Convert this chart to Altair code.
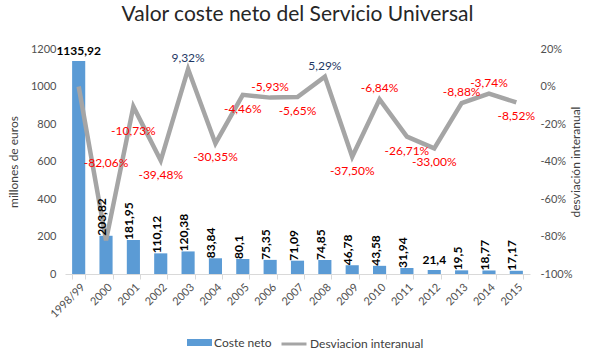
import altair as alt
import pandas as pd

years = ["1998/99", "2000", "2001", "2002", "2003", "2004", "2005", "2006", "2007",
         "2008", "2009", "2010", "2011", "2012", "2013", "2014", "2015"]
coste = [1135.92, 203.82, 181.95, 110.12, 120.38, 83.84, 80.1, 75.35, 71.09,
         74.85, 46.78, 43.58, 31.94, 21.4, 19.5, 18.77, 17.17]
desv = [0.0, -82.06, -10.73, -39.48, 9.32, -30.35, -4.46, -5.93, -5.65,
        5.29, -37.50, -6.84, -26.71, -33.00, -8.88, -3.74, -8.52]
# orientation of bar value labels (v = vertical, h = horizontal)
bar_orient = ["h", "v", "v", "v", "v", "v", "v", "v", "v",
              "v", "v", "v", "v", "h", "v", "v", "v"]
# placement of the percentage labels relative to the line
desv_place = ["none", "far", "below2", "below", "above", "below", "below", "above", "below",
              "above", "below", "above", "below", "below", "above", "above", "below"]

df = pd.DataFrame({
    "year": years,
    "coste": coste,
    "desv": desv,
    "orient": bar_orient,
    "place": desv_place,
})
df["coste_lbl"] = [str(v).replace(".", ",") for v in coste]
df["desv_lbl"] = [f"{v:.2f}".replace(".", ",") + "%" for v in desv]
df["serie"] = "Coste neto"
df["serie2"] = "Desviacion interanual"

FONT = "Lato"
GRAY_TXT = "#505050"

x_enc = alt.X("year:N", sort=years, title=None,
              scale=alt.Scale(paddingInner=0.52, paddingOuter=0.26),
              axis=alt.Axis(labelAngle=-45, labelFontSize=11, labelFont=FONT,
                            labelColor=GRAY_TXT, domainColor="#D9D9D9",
                            tickColor="#D9D9D9", tickBand="extent", tickSize=5,
                            labelPadding=2))
x_plain = alt.X("year:N", sort=years)

y_left_scale = alt.Scale(domain=[0, 1200], nice=False)
y_left_axis = alt.Axis(values=[0, 200, 400, 600, 800, 1000, 1200], grid=False, format="d",
                       ticks=False, domain=False, labelFontSize=11, labelFont=FONT,
                       labelColor=GRAY_TXT, labelPadding=9,
                       title="millones de euros", titleFont=FONT, titleFontSize=12,
                       titleFontWeight="normal", titleColor="#404040", titlePadding=10)

y_right_scale = alt.Scale(domain=[-100, 20], nice=False)
y_right_axis = alt.Axis(orient="right", values=[-100, -80, -60, -40, -20, 0, 20],
                        labelExpr="datum.value + '%'", grid=False, ticks=False,
                        domain=False, labelFontSize=11, labelFont=FONT,
                        labelColor=GRAY_TXT, labelPadding=10,
                        title="desviación interanual", titleFont=FONT, titleFontSize=12,
                        titleFontWeight="normal", titleColor="#404040", titlePadding=10,
                        titleAngle=270)

base = alt.Chart(df)

bars = base.mark_bar(color="#5B9BD5").encode(
    x=x_enc,
    y=alt.Y("coste:Q", scale=y_left_scale, axis=y_left_axis),
    fill=alt.Fill("serie:N", scale=alt.Scale(domain=["Coste neto"], range=["#5B9BD5"]),
                  legend=alt.Legend(orient="none", legendX=122, legendY=281, title=None,
                                    symbolType="M-1,-0.28H1V0.28H-1Z", symbolSize=625,
                                    labelFont=FONT, labelFontSize=12, labelColor="#404040",
                                    symbolStrokeWidth=0, labelOffset=2)),
)

bar_txt_v = base.transform_filter("datum.orient == 'v'").mark_text(
    angle=270, align="left", dy=-4, font=FONT, fontSize=12,
    fontWeight="bold", color="#000000"
).encode(x=x_plain, y=alt.Y("coste:Q", scale=y_left_scale, axis=None),
         text="coste_lbl:N")

bar_txt_h = base.transform_filter("datum.orient == 'h'").mark_text(
    align="center", baseline="bottom", dy=-3, font=FONT, fontSize=12,
    fontWeight="bold", color="#000000"
).encode(x=x_plain, y=alt.Y("coste:Q", scale=y_left_scale, axis=None),
         text="coste_lbl:N")

line = base.mark_line(strokeWidth=4.5, color="#A5A5A5").encode(
    x=x_plain,
    y=alt.Y("desv:Q", scale=y_right_scale, axis=y_right_axis),
    stroke=alt.Stroke("serie2:N", scale=alt.Scale(domain=["Desviacion interanual"], range=["#A5A5A5"]),
                      legend=alt.Legend(orient="none", legendX=215, legendY=281, title=None,
                                        symbolType="stroke", symbolSize=625,
                                        symbolStrokeWidth=3, labelFont=FONT,
                                        labelFontSize=12, labelColor="#404040", labelOffset=2)),
)

color_cond = alt.condition("datum.desv > 0", alt.value("#1F3864"), alt.value("#FF0000"))


def desv_text(place, dy):
    return base.transform_filter(f"datum.place == '{place}'").mark_text(
        align="center", baseline="middle", dy=dy, font=FONT, fontSize=12
    ).encode(x=x_plain,
             y=alt.Y("desv:Q", scale=y_right_scale, axis=None),
             text="desv_lbl:N", color=color_cond)


chart = alt.layer(
    bars, line, bar_txt_v, bar_txt_h,
    desv_text("above", -11),
    desv_text("below", 14),
    desv_text("below2", 24),
    desv_text("far", -77),
).resolve_scale(y="independent", fill="independent", stroke="independent").properties(
    width=465, height=225,
    autosize=alt.AutoSizeParams(type="none"),
    padding={"left": 65, "top": 49, "right": 70, "bottom": 80},
    background="white",
    title=alt.TitleParams("Valor coste neto del Servicio Universal", font=FONT,
                          fontSize=21, fontWeight="normal", color="#262626",
                          anchor="middle", offset=18),
).configure_view(stroke=None)

chart.save("out.html", embed_options={"renderer": "svg", "actions": False})
